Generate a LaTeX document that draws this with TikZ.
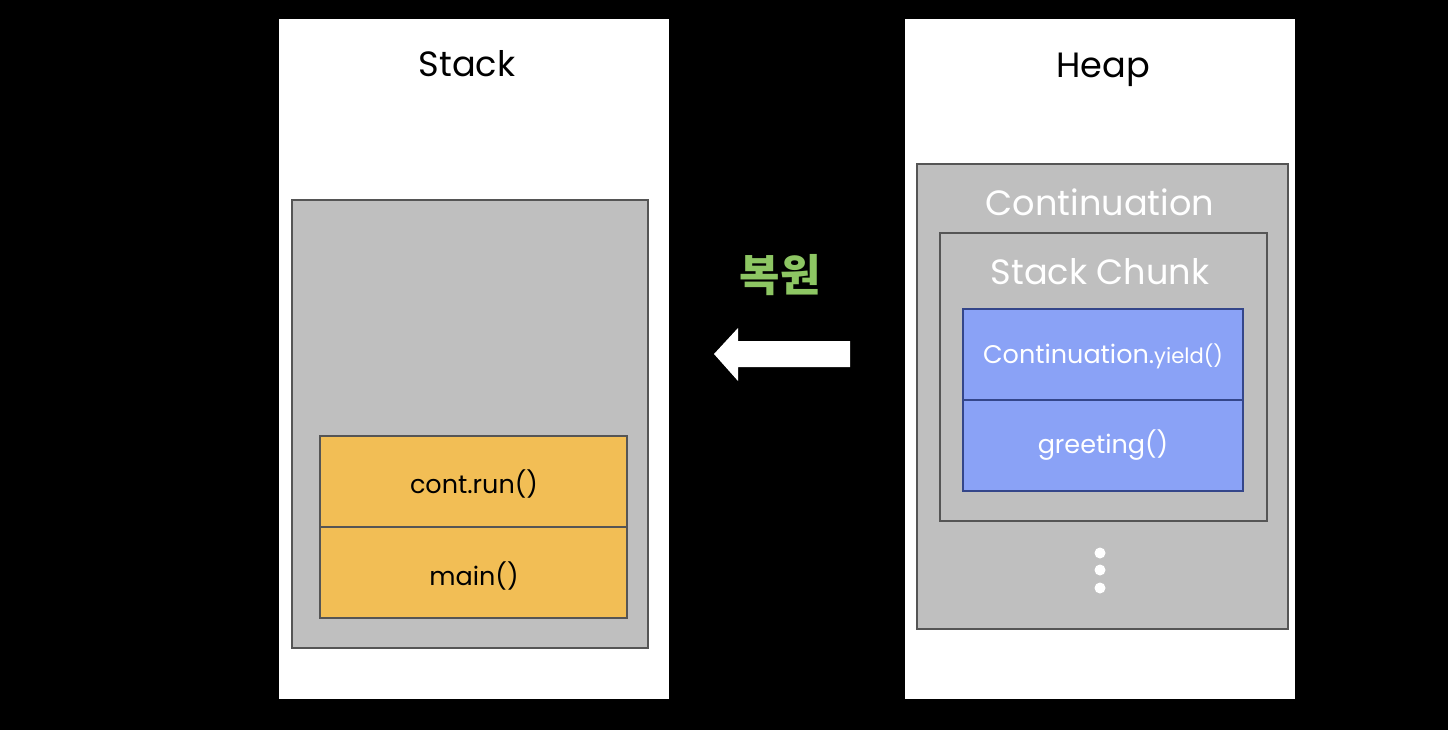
\documentclass[tikz,border=0pt]{standalone}
\usepackage{fontspec}
\setmainfont{Poppins}
\newfontfamily\kofont{Noto Sans CJK KR}
\usetikzlibrary{positioning,calc}

\definecolor{framegray}{HTML}{BFBFBF}
\definecolor{edgegray}{HTML}{555555}
\definecolor{frameorange}{HTML}{F2BE55}
\definecolor{frameblue}{HTML}{8AA2F6}
\definecolor{edgeblue}{HTML}{34468A}
\definecolor{restoregreen}{HTML}{8DC663}

\begin{document}
\begin{tikzpicture}[x=0.02cm, y=-0.02cm,
	title/.style={anchor=base, font=\fontsize{20}{24}\selectfont},
	boxtitle/.style={anchor=base, text=white, font=\fontsize{20}{24}\selectfont},
	framelabel/.style={anchor=base, font=\fontsize{14.5}{17}\selectfont},
	graybox/.style={fill=framegray, draw=edgegray, line width=0.8pt},
	orangebox/.style={fill=frameorange, draw=edgegray, line width=0.8pt},
	bluebox/.style={fill=frameblue, draw=edgeblue, line width=0.8pt}]
	%	\draw [help lines] (0,0) grid[step=100] (1448,730);
	% background
	\fill[black] (0,0) rectangle (1448,730);
	
	% stack side
	\draw[fill=white, color=white] (279,19) rectangle (668,698);
	\node[title] (stacktitle) at (467,76) {Stack};
	\draw[graybox] (292,200) rectangle (648,648);
	
	% stack frames
	\draw[orangebox] (320,436) rectangle (627,527);
	\draw[orangebox] (320,527) rectangle (627,618);
	\node[framelabel] (contrun) at (474,493) {cont.run()};
	\node[framelabel] (mainframe) at (474,585) {main()};
	
	% restore arrow
	\node[text=restoregreen, font=\kofont\bfseries\fontsize{25}{30}\selectfont]
	(restore) at (780,275) {복원};
	\fill[white] (850,341) -- (738,341) -- (738,328) -- (714,354)
	-- (738,381) -- (738,367) -- (850,367) -- cycle;
	
	% heap side
	\draw[fill=white, color=white] (905,19) rectangle (1294,698);
	\node[title] (heaptitle) at (1103,77) {Heap};
	
	% continuation object
	\draw[graybox] (917,164) rectangle (1288,629);
	\node[boxtitle] (conttitle) at (1100,215) {Continuation};
	
	% stack chunk
	\draw[graybox] (940,233) rectangle (1267,521);
	\node[boxtitle] (chunktitle) at (1100,284) {Stack Chunk};
	
	% frames inside stack chunk
	\draw[bluebox] (963,309) rectangle (1243,400);
	\draw[bluebox] (963,400) rectangle (1243,491);
	\node[framelabel, text=white] (yieldframe) at (1103,363)
	{Continuation.{\fontsize{12}{14}\selectfont yield()}};
	\node[framelabel, text=white] (greetframe) at (1103,453) {greeting()};
	
	% more chunks
	\foreach \y in {553,570,588}
	\fill[white] (1100,\y) circle (5.5);
\end{tikzpicture}
\end{document}
